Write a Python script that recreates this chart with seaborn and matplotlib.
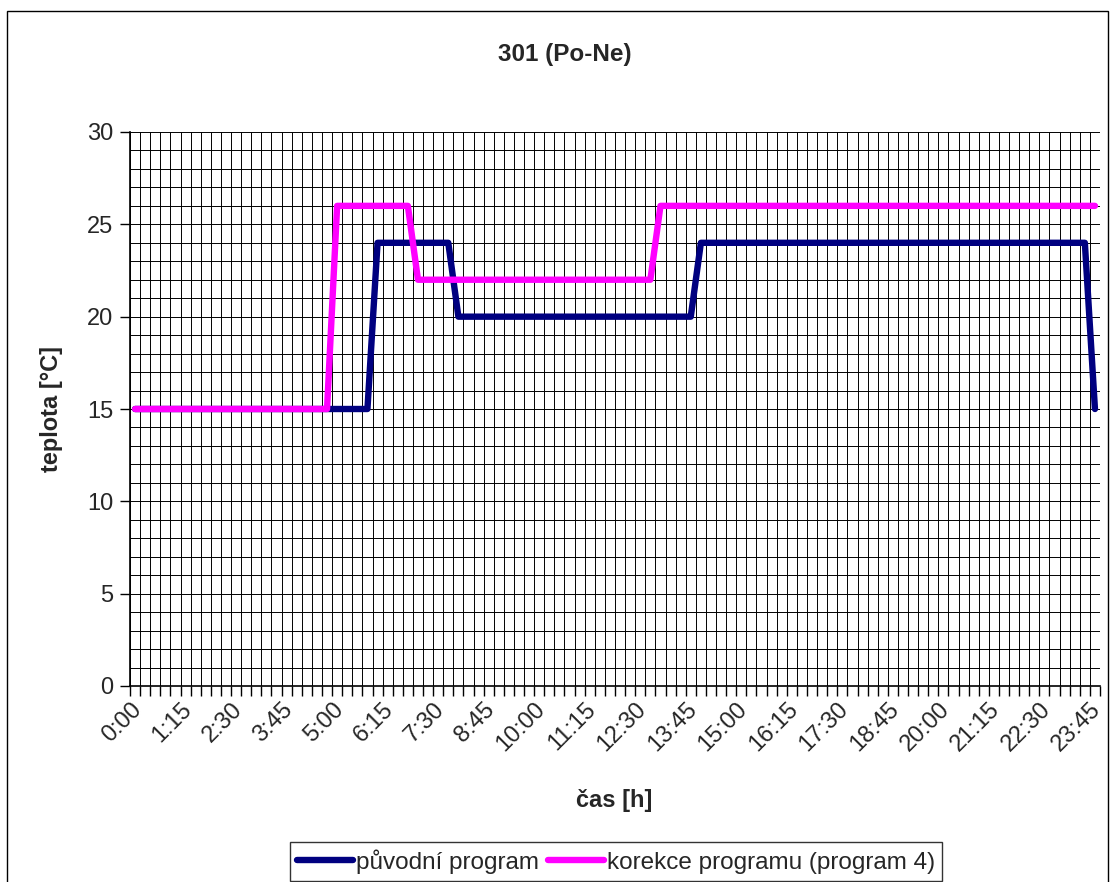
import matplotlib
matplotlib.use('Agg')
import matplotlib.pyplot as plt
import matplotlib.transforms as mtransforms
import seaborn as sns
import pandas as pd
import numpy as np
from matplotlib.patches import Rectangle

# categories: 15-minute steps over one day
times = [f"{h}:{m:02d}" for h in range(24) for m in (0, 15, 30, 45)]

# původní program (96 values, one per 15 min)
puvodni = [
    15, 15, 15, 15, 15, 15, 15, 15, 15, 15, 15, 15,   # 0:00 - 2:45
    15, 15, 15, 15, 15, 15, 15, 15, 15, 15, 15, 15,   # 3:00 - 5:45
    24, 24, 24, 24, 24, 24, 24, 24, 20, 20, 20, 20,   # 6:00 - 8:45
    20, 20, 20, 20, 20, 20, 20, 20, 20, 20, 20, 20,   # 9:00 - 11:45
    20, 20, 20, 20, 20, 20, 20, 20, 24, 24, 24, 24,   # 12:00 - 14:45
    24, 24, 24, 24, 24, 24, 24, 24, 24, 24, 24, 24,   # 15:00 - 17:45
    24, 24, 24, 24, 24, 24, 24, 24, 24, 24, 24, 24,   # 18:00 - 20:45
    24, 24, 24, 24, 24, 24, 24, 24, 24, 24, 24, 15,   # 21:00 - 23:45
]

# korekce programu (program 4)
korekce = [
    15, 15, 15, 15, 15, 15, 15, 15, 15, 15, 15, 15,   # 0:00 - 2:45
    15, 15, 15, 15, 15, 15, 15, 15, 26, 26, 26, 26,   # 3:00 - 5:45
    26, 26, 26, 26, 22, 22, 22, 22, 22, 22, 22, 22,   # 6:00 - 8:45
    22, 22, 22, 22, 22, 22, 22, 22, 22, 22, 22, 22,   # 9:00 - 11:45
    22, 22, 22, 22, 26, 26, 26, 26, 26, 26, 26, 26,   # 12:00 - 14:45
    26, 26, 26, 26, 26, 26, 26, 26, 26, 26, 26, 26,   # 15:00 - 17:45
    26, 26, 26, 26, 26, 26, 26, 26, 26, 26, 26, 26,   # 18:00 - 20:45
    26, 26, 26, 26, 26, 26, 26, 26, 26, 26, 26, 26,   # 21:00 - 23:45
]

series_names = ["původní program", "korekce programu (program 4)"]
colors = ["#000080", "#FF00FF"]

sns.set_style("white")
plt.rcParams['font.family'] = ['Liberation Sans', 'DejaVu Sans']

W, H = 1110, 882
fig = plt.figure(figsize=(W / 100, H / 100), dpi=100)
fig.patch.set_facecolor("white")

# outer chart border
fig.add_artist(Rectangle((7 / W, -0.02), (1108 - 7) / W, 1 - 11 / H + 0.02,
                         transform=fig.transFigure, fill=False,
                         edgecolor="black", linewidth=1.0))

ax = fig.add_axes([130 / W, (H - 686) / H, 970 / W, 554 / H])

df = pd.DataFrame({"i": np.arange(len(times)),
                   series_names[0]: puvodni,
                   series_names[1]: korekce})
long = df.melt(id_vars="i", var_name="serie", value_name="teplota")
sns.lineplot(data=long, x="i", y="teplota", hue="serie",
             hue_order=series_names, palette=colors, linewidth=4.6,
             ax=ax, legend=True, zorder=3)
for ln in ax.lines:
    ln.set_solid_capstyle("round")
    ln.set_solid_joinstyle("round")

n = len(times)
ax.set_xlim(-0.5, n - 0.5)
ax.set_ylim(0, 30)

# x: tick marks / grid at category boundaries, labels at every 5th category
ax.set_xticks(np.arange(-0.5, n, 1.0))
ax.set_xticklabels([])
ax.set_xticks(np.arange(0, n, 5), minor=True)
ax.set_xticklabels(times[::5], minor=True, rotation=45, ha="right",
                   rotation_mode="anchor", fontsize=17)
ax.tick_params(axis="x", which="major", direction="out", length=7, width=1,
               color="black", bottom=True)
ax.tick_params(axis="x", which="minor", length=0, pad=9)
shift = mtransforms.ScaledTranslation(-5 / 100, 0, fig.dpi_scale_trans)
for lab in ax.get_xticklabels(minor=True):
    lab.set_transform(lab.get_transform() + shift)

# y: major ticks every 5, grid every 1
ax.set_yticks(np.arange(0, 31, 5))
ax.set_yticklabels([str(v) for v in range(0, 31, 5)], fontsize=17)
ax.set_yticks(np.arange(0, 31, 1), minor=True)
ax.tick_params(axis="y", which="major", direction="out", length=7, width=1,
               color="black", left=True, pad=5)
ax.tick_params(axis="y", which="minor", length=0)

ax.grid(True, axis="x", which="major", color="black", linewidth=0.7)
ax.grid(True, axis="y", which="both", color="black", linewidth=0.7)
ax.set_axisbelow(True)

for s in ["top", "right"]:
    ax.spines[s].set_visible(False)
for s in ["left", "bottom"]:
    ax.spines[s].set_color("black")
    ax.spines[s].set_linewidth(1.2)
    ax.spines[s].set_zorder(4)

ax.set_xlabel("čas [h]", fontsize=17, fontweight="bold")
ax.set_ylabel("teplota [°C]", fontsize=17, fontweight="bold")
ax.xaxis.set_label_coords((614 - 130) / 970, -(789 - 686) / 554)
ax.yaxis.set_label_coords(-(130 - 63) / 970, 0.5)

fig.text(565 / W, 1 - 55 / H, "301 (Po-Ne)", ha="center", va="center",
         fontsize=17.5, fontweight="bold")

handles, labels = ax.get_legend_handles_labels()
ax.get_legend().remove()
leg = fig.legend(handles, labels, loc="upper center",
                 bbox_to_anchor=(616 / W, 1 - 842 / H), ncol=2,
                 fontsize=17.5, frameon=True, fancybox=False,
                 edgecolor="black", handlelength=2.3, handletextpad=0.1,
                 columnspacing=0.4, borderpad=0.3, borderaxespad=0)
leg.get_frame().set_linewidth(1.0)
for h in leg.get_lines():
    h.set_linewidth(4.6)
    h.set_solid_capstyle("round")

fig.savefig("out.png", dpi=100, facecolor="white")
